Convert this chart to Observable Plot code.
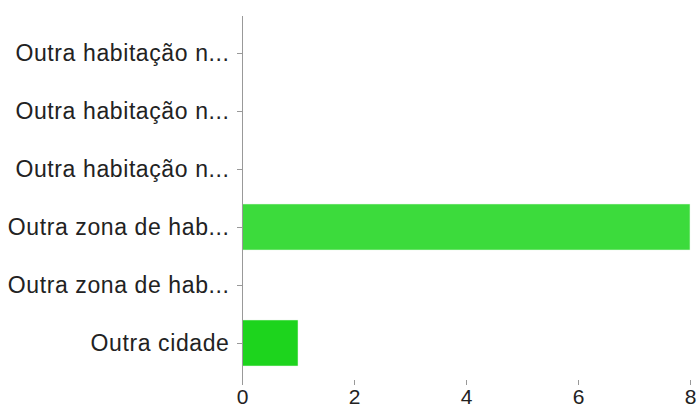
<!DOCTYPE html>
<html>
<head>
<meta charset="utf-8">
<script src="https://cdn.jsdelivr.net/npm/d3@7"></script>
<script src="https://cdn.jsdelivr.net/npm/@observablehq/plot@0.6"></script>
<style>
  html, body { margin: 0; padding: 0; background: #fff; }
  g[aria-label="y-axis tick label"] text { letter-spacing: 0.6px; }
</style>
</head>
<body>
<div id="chart"></div>
<script>
const categories = [
  "Outra habitação n...",
  "Outra habitação n...",
  "Outra habitação n...",
  "Outra zona de hab...",
  "Outra zona de hab...",
  "Outra cidade"
];
const counts = [0, 0, 0, 8, 0, 1];
const xTicks = [0, 2, 4, 6, 8];
const barColors = ["#3cdb3c", "#3cdb3c", "#3cdb3c", "#3cdb3c", "#3cdb3c", "#1dd41d"];

const data = categories.map((c, i) => ({i, label: c, value: counts[i], color: barColors[i]}));

const chart = Plot.plot({
  width: 697,
  height: 412,
  marginLeft: 242,
  marginRight: 7,
  marginTop: 16,
  marginBottom: 32,
  style: {fontFamily: "'Liberation Sans', Arial, Helvetica, sans-serif", color: "#222", background: "#fff"},
  x: {domain: [0, 8], ticks: xTicks},
  y: {domain: d3.range(categories.length), padding: 0.2},
  marks: [
    Plot.barX(data, {x: "value", y: "i", fill: "color", stroke: "#e8f8e8", strokeWidth: 0.5}),
    Plot.axisX({ticks: xTicks, tickSize: 5, tickPadding: 4, fontSize: 21, stroke: "#999", color: "#222", line: true, label: null}),
    Plot.axisY({tickSize: 5, tickPadding: 8, fontSize: 23, stroke: "#999", line: true, label: null,
      tickFormat: i => categories[i]}),
    Plot.ruleX([0], {stroke: "#999"})
  ]
});
document.getElementById("chart").appendChild(chart);
</script>
</body>
</html>
